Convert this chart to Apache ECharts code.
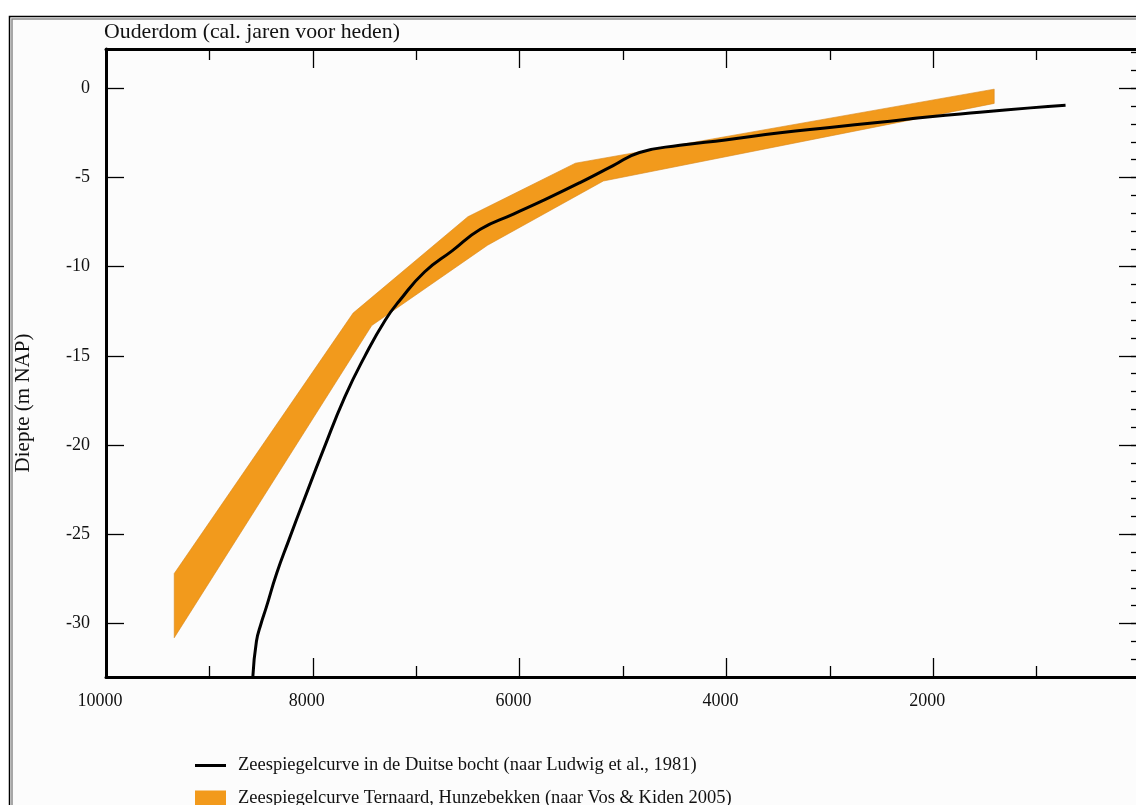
<!DOCTYPE html>
<html>
<head>
<meta charset="utf-8">
<title>Zeespiegelcurven</title>
<script src="https://cdn.jsdelivr.net/npm/echarts@6/dist/echarts.min.js"></script>
<style>
  html, body { margin: 0; padding: 0; background: #ffffff; }
  #chart { width: 1136px; height: 805px; }
</style>
</head>
<body>
<div id="chart"></div>
<script>
// Age axis (cal. years BP) and depth axis (m NAP) tick labels
const yearTicks = [10000, 8000, 6000, 4000, 2000];
const depthTicks = [0, -5, -10, -15, -20, -25, -30];

// Sea-level curve German Bight (Ludwig et al., 1981): [age, depth]
const ludwigCurve = [
  [8580, -33], [8545, -31], [8500, -30], [8450, -29.1], [8350, -27.2],
  [8230, -25.3], [8080, -23], [7900, -20.3], [7690, -17.3], [7495, -15],
  [7300, -13], [7160, -11.9], [6920, -10.3], [6650, -9.1], [6380, -7.9],
  [6060, -7.05], [5740, -6.2], [5420, -5.3], [5100, -4.35], [4840, -3.6],
  [4450, -3.2], [4010, -2.9], [3480, -2.5], [3000, -2.2], [2515, -1.9],
  [2030, -1.6], [1550, -1.35], [1060, -1.1], [720, -0.95]
];

// Sea-level band Ternaard, Hunzebekken (Vos & Kiden 2005): upper and lower edges
const ternaardUpper = [
  [9340, -27.2], [7610, -12.6], [6500, -7.2], [5460, -4.2], [1410, -0.05]
];
const ternaardLower = [
  [9340, -30.8], [7430, -13.3], [6310, -8.8], [5190, -5.2], [1410, -0.85]
];

const ternaardBand = ternaardUpper.concat(ternaardLower.slice().reverse());

const ludwigName = 'Zeespiegelcurve in de Duitse bocht (naar Ludwig et al., 1981)';
const ternaardName = 'Zeespiegelcurve Ternaard, Hunzebekken (naar Vos & Kiden 2005)';

const serif = '"Liberation Serif", "DejaVu Serif", serif';
const orange = '#F29A1C';

const chart = echarts.init(document.getElementById('chart'), null, { renderer: 'canvas' });

const baseX = {
  type: 'value',
  inverse: true,
  min: 0,
  max: 10000,
  interval: 2000,
  splitLine: { show: false },
  axisLine: { show: true, onZero: false, lineStyle: { color: '#000', width: 3 } },
  axisTick: { show: true, inside: true, length: 19, lineStyle: { color: '#000', width: 1.3 } },
  minorTick: { show: true, splitNumber: 2, length: 11, lineStyle: { color: '#000', width: 1.3 } },
  minorSplitLine: { show: false }
};

const baseY = {
  type: 'value',
  min: -33,
  max: 2.2,
  splitLine: { show: false },
  axisLine: { show: false },
  axisLabel: { show: false },
  axisTick: { show: false }
};

const legendText = { fontFamily: serif, fontSize: 18.5, color: '#111', padding: [0, 0, 0, 7] };

chart.setOption({
  backgroundColor: '#ffffff',
  animation: false,
  graphic: [
    {
      type: 'rect', z: -10, silent: true,
      shape: { x: 9.5, y: 16.5, width: 1140, height: 800 },
      style: { fill: '#fcfcfc', stroke: '#000', lineWidth: 1.5 }
    },
    {
      type: 'rect', z: -9, silent: true,
      shape: { x: 12, y: 19, width: 1140, height: 800 },
      style: { fill: 'none', stroke: '#8a8a8a', lineWidth: 1.5 }
    }
  ],
  title: {
    text: 'Ouderdom (cal. jaren voor heden)',
    left: 104,
    top: 21,
    padding: 0,
    textStyle: { fontFamily: serif, fontSize: 21.8, fontWeight: 'normal', color: '#111' }
  },
  legend: [
    {
      left: 195,
      top: 756,
      padding: 0,
      itemWidth: 31,
      itemHeight: 3,
      icon: 'rect',
      itemStyle: { color: '#000' },
      textStyle: legendText,
      data: [ludwigName]
    },
    {
      left: 195,
      top: 789,
      padding: 0,
      itemWidth: 31,
      itemHeight: 16,
      icon: 'rect',
      textStyle: legendText,
      data: [ternaardName]
    }
  ],
  // plot area runs a few pixels past the right edge of the canvas
  grid: { left: 106, top: 49, width: 1034, height: 628, containLabel: false, outerBoundsMode: 'none' },
  xAxis: [
    Object.assign({}, baseX, {
      position: 'bottom',
      axisLabel: {
        show: true,
        margin: 15,
        padding: [0, 12, 0, 0],
        fontFamily: serif,
        fontSize: 18,
        color: '#111',
        formatter: v => (yearTicks.indexOf(v) >= 0 ? String(v) : '')
      }
    }),
    Object.assign({}, baseX, {
      position: 'top',
      axisLabel: { show: false }
    })
  ],
  yAxis: [
    // left: main ticks, labels and axis name
    Object.assign({}, baseY, {
      position: 'left',
      axisLine: { show: true, onZero: false, lineStyle: { color: '#000', width: 3 } },
      axisTick: { show: true, inside: true, length: 18, customValues: depthTicks, lineStyle: { color: '#000', width: 1.3 } },
      axisLabel: { show: true, customValues: depthTicks, margin: 16, fontFamily: serif, fontSize: 18, color: '#111' },
      name: 'Diepte (m NAP)',
      nameLocation: 'middle',
      nameRotate: 90,
      nameGap: 72,
      nameTextStyle: { fontFamily: serif, fontSize: 21, color: '#111', padding: [0, 80, 0, 0] }
    }),
    // left: metre ticks
    Object.assign({}, baseY, {
      position: 'left',
      interval: 1,
      axisTick: { show: true, inside: true, length: 8, lineStyle: { color: '#000', width: 1.3 } }
    }),
    // right: main ticks
    Object.assign({}, baseY, {
      position: 'right',
      axisLine: { show: true, onZero: false, lineStyle: { color: '#000', width: 3 } },
      axisTick: { show: true, inside: true, length: 21, customValues: depthTicks, lineStyle: { color: '#000', width: 1.3 } }
    }),
    // right: metre ticks
    Object.assign({}, baseY, {
      position: 'right',
      interval: 1,
      axisTick: { show: true, inside: true, length: 9, lineStyle: { color: '#000', width: 1.3 } }
    })
  ],
  series: [
    {
      name: ternaardName,
      type: 'custom',
      xAxisIndex: 0,
      yAxisIndex: 0,
      clip: true,
      encode: { x: 0, y: 1 },
      itemStyle: { color: orange },
      data: ternaardBand,
      renderItem: function (params, api) {
        if (params.dataIndex !== 0) return null;
        const pts = ternaardBand.map(p => api.coord(p));
        return {
          type: 'polygon',
          shape: { points: pts },
          style: { fill: orange, stroke: '#d8871a', lineWidth: 0.6 }
        };
      },
      z: 2
    },
    {
      name: ludwigName,
      type: 'line',
      xAxisIndex: 0,
      yAxisIndex: 0,
      data: ludwigCurve,
      smooth: 0.5,
      showSymbol: false,
      symbol: 'none',
      lineStyle: { color: '#000', width: 3 },
      itemStyle: { color: '#000' },
      z: 3
    }
  ]
});
</script>
</body>
</html>
